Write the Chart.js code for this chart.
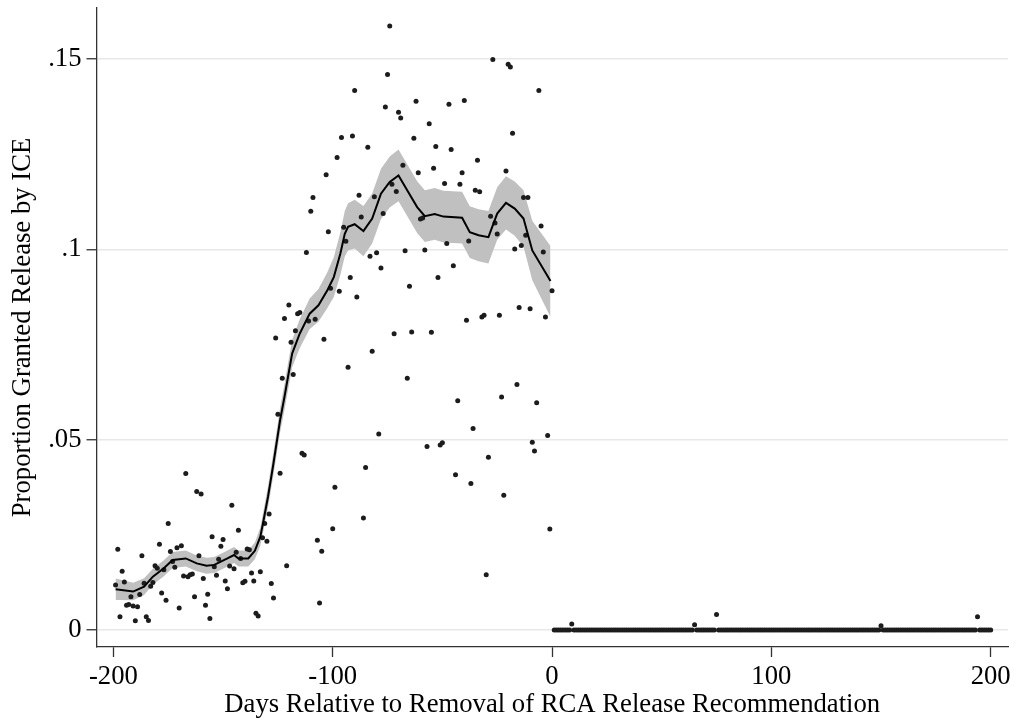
<!DOCTYPE html>
<html>
<head>
<meta charset="utf-8">
<script src="https://cdn.jsdelivr.net/npm/chart.js@4.4.1/dist/chart.umd.min.js"></script>
<style>
  html, body { margin: 0; padding: 0; background: #fff; }
</style>
</head>
<body>
<canvas id="chart" width="1016" height="723"></canvas>
<script>
// Daily share granted release, days -199 .. 0 (one point per day)
const preRate = [
  .0118, .0212, .0035, .0154, .0126, .0065, .0067, .0087, .0063, .0024,
  .0061, .0093, .0195, .0123, .0035, .0025, .0115, .0125, .0169, .0162,
  .0225, .0097, .0158, .0078, .0280, .0206, .0180, .0165, .0216, .0058,
  .0221, .0142, .0411, .0140, .0145, .0147, .0087, .0364, .0195, .0357,
  .0135, .0065, .0094, .0030, .0245, .0166, .0144, .0186, .0220, .0238,
  .0129, .0108, .0168, .0328, .0161, .0204, .0262, .0188, .0124, .0128,
  .0213, .0211, .0150, .0129, .0044, .0037, .0153, .0242, .0280, .0233,
  .0305, .0122, .0084, .0767, .0567, .0412, .0661, .0818, .0169, .0854,
  .0756, .0671, .0786, .0831, .0834, .0464, .0460, .0992, .0812, .1100,
  .1136, .0816, .0236, .0071, .0207, .0764, .1196, .1046, .0898, .0266,
  .0375, .1241, .0890, .1294, .1058, .1021, .0690, .0926, .1298, .1417,
  .0875, .1142, .1085, .0294, .0427, .1268, .0982, .0732, .1138, .0991,
  .0515, .0951, .1094, .1374, .1459, .1587, .1171, .0778, .1152, .1360,
  .1345, .1221, .0996, .0661, .0903, .0783, .1292, .1389, .1201, .1080,
  .1082, .0998, .0482, .1330, .0782, .1213, .1270, .0926, .0486, .0492,
  .1173, .1015, .1381, .1262, .0957, .0408, .0602, .1171, .1201, .1391,
  .0814, .1022, .0385, .0529, .1155, .1234, .1151, .0822, .0827, .0145,
  .0454, .1087, .1499, .1069, .1040, .0827, .0612, .0354, .1206, .1486,
  .1479, .1305, .1001, .0645, .0847, .1010, .1136, .1037, .1136, .0844,
  .0493, .0470, .0597, .1417, .1061, .0993, .0822, .0511, .0265, .0891
];

// Days 1 .. 200 after removal
const postRate = [
  0, 0, 0, 0, 0, 0, 0, 0, .0016, 0, 0, 0, 0, 0, 0, 0, 0, 0, 0, 0,
  0, 0, 0, 0, 0, 0, 0, 0, 0, 0, 0, 0, 0, 0, 0, 0, 0, 0, 0, 0,
  0, 0, 0, 0, 0, 0, 0, 0, 0, 0, 0, 0, 0, 0, 0, 0, 0, 0, 0, 0,
  0, 0, 0, 0, .0014, 0, 0, 0, 0, 0, 0, 0, 0, 0, .0041, 0, 0, 0, 0, 0,
  0, 0, 0, 0, 0, 0, 0, 0, 0, 0, 0, 0, 0, 0, 0, 0, 0, 0, 0, 0,
  0, 0, 0, 0, 0, 0, 0, 0, 0, 0, 0, 0, 0, 0, 0, 0, 0, 0, 0, 0,
  0, 0, 0, 0, 0, 0, 0, 0, 0, 0, 0, 0, 0, 0, 0, 0, 0, 0, 0, 0,
  0, 0, 0, 0, 0, 0, 0, 0, 0, .0011, 0, 0, 0, 0, 0, 0, 0, 0, 0, 0,
  0, 0, 0, 0, 0, 0, 0, 0, 0, 0, 0, 0, 0, 0, 0, 0, 0, 0, 0, 0,
  0, 0, 0, 0, 0, 0, 0, 0, 0, 0, 0, 0, 0, .0035, 0, 0, 0, 0, 0, 0
];

// Local fit with 95% band (pre-removal only)
const fitDays = [-199, -191, -186, -182, -177, -173, -167, -162, -157.5, -154,
  -148, -145, -143, -138.5, -135.5, -133, -131.5, -129.5, -127, -124,
  -122, -118.5, -115, -110.5, -106.5, -102.5, -99.5, -96.5, -94.5, -93,
  -90, -86, -82, -78, -74, -70, -65.5, -61.5, -58, -53.5,
  -49.5, -41, -37.5, -33.5, -29, -25, -21, -17, -13, -9, -0.7];
const fitRate = [.0107, .0101, .0114, .0140, .0162, .0184, .0188, .0175, .0169, .0171,
  .0188, .0197, .0188, .0188, .0208, .0245, .0289, .0350, .0438, .0551,
  .0612, .0726, .0779, .0831, .0853, .0892, .0927, .0989, .1041, .1059,
  .1066, .1048, .1081, .1146, .1177, .1194, .1150, .1111, .1087, .1093,
  .1086, .1083, .1045, .1037, .1032, .1094, .1122, .1107, .1081, .0997, .0917];
const fitLow = [.0079, .0078, .0092, .0119, .0141, .0163, .0167, .0154, .0148, .0150,
  .0167, .0176, .0167, .0167, .0186, .0221, .0263, .0322, .0408, .0519,
  .0578, .0690, .0741, .0791, .0810, .0845, .0875, .0933, .0981, .0997,
  .1002, .0982, .1015, .1080, .1110, .1126, .1082, .1043, .1019, .1025,
  .1018, .1015, .0977, .0969, .0963, .1025, .1052, .1036, .1007, .0919, .0822];
const fitHigh = [.0135, .0124, .0136, .0161, .0183, .0205, .0209, .0196, .0190, .0192,
  .0209, .0218, .0209, .0209, .0230, .0269, .0315, .0378, .0468, .0583,
  .0646, .0762, .0817, .0871, .0896, .0939, .0979, .1045, .1101, .1121,
  .1130, .1114, .1147, .1212, .1244, .1262, .1218, .1179, .1155, .1161,
  .1154, .1151, .1113, .1105, .1101, .1163, .1192, .1178, .1155, .1075, .1009];

const xTicks = [-200, -100, 0, 100, 200];
const xTickLabels = ['-200', '-100', '0', '100', '200'];
const yTicks = [0, .05, .1, .15];
const yTickLabels = ['0', '.05', '.1', '.15'];

const preDays = preRate.map((v, i) => i - 199);
const postDays = postRate.map((v, i) => i + 1);

const serif = { family: "'Liberation Serif', 'Times New Roman', serif", size: 26.7 };

const scatterPts = preDays.map((d, i) => ({ x: d, y: preRate[i] }))
  .concat(postDays.map((d, i) => ({ x: d, y: postRate[i] })));

const ctx = document.getElementById('chart').getContext('2d');
const chart = new Chart(ctx, {
    type: 'scatter',
    data: {
        datasets: [{
            // band lower edge
            type: 'line',
            data: fitDays.map((d, i) => ({ x: d, y: fitLow[i] })),
            borderWidth: 0,
            borderColor: 'rgba(0,0,0,0)',
            pointRadius: 0,
            fill: false,
            order: 4
        }, {
            // band upper edge, filled down to lower edge
            type: 'line',
            data: fitDays.map((d, i) => ({ x: d, y: fitHigh[i] })),
            borderWidth: 0,
            borderColor: 'rgba(0,0,0,0)',
            backgroundColor: '#c0c0c0',
            pointRadius: 0,
            fill: 0,
            order: 3
        }, {
            // daily points
            data: scatterPts,
            backgroundColor: '#1c1c1c',
            borderWidth: 0,
            pointRadius: 2.5,
            order: 2
        }, {
            // fitted line
            type: 'line',
            data: fitDays.map((d, i) => ({ x: d, y: fitRate[i] })),
            borderColor: '#000',
            borderWidth: 2,
            pointRadius: 0,
            tension: 0,
            fill: false,
            order: 1
        }]
    },
    options: {
        responsive: false,
        animation: false,
        layout: { padding: { top: 8, right: 8, left: 0, bottom: 0 } },
        plugins: {
            legend: { display: false },
            tooltip: { enabled: false }
        },
        scales: {
            x: {
                type: 'linear',
                min: -207.7,
                max: 207.9,
                afterBuildTicks: axis => { axis.ticks = xTicks.map(v => ({ value: v })); },
                afterFit: axis => {
                    axis.height = 76;
                    axis.paddingLeft = 0;
                    axis.paddingRight = 0;
                },
                grid: { drawOnChartArea: false, drawTicks: true, tickLength: 10, tickColor: '#333', tickWidth: 1.3 },
                border: { display: true, color: '#333', width: 1.3 },
                ticks: {
                    color: '#000',
                    font: serif,
                    padding: 4,
                    maxRotation: 0,
                    autoSkip: false,
                    callback: (v, i) => xTickLabels[i]
                },
                title: {
                    display: true,
                    text: 'Days Relative to Removal of RCA Release Recommendation',
                    color: '#000',
                    font: serif,
                    padding: { top: 0, bottom: 2 }
                }
            },
            y: {
                type: 'linear',
                min: -0.00447,
                max: 0.1634,
                afterBuildTicks: axis => { axis.ticks = yTicks.map(v => ({ value: v })); },
                afterFit: axis => {
                    axis.width = 96.5;
                    axis.paddingTop = 0;
                    axis.paddingBottom = 0;
                },
                grid: { color: '#e8e8e8', lineWidth: 1.5, drawTicks: true, tickLength: 10, tickColor: '#333', tickWidth: 1.3 },
                border: { display: true, color: '#333', width: 1.3 },
                ticks: {
                    color: '#000',
                    font: serif,
                    padding: 5,
                    autoSkip: false,
                    callback: (v, i) => yTickLabels[i]
                },
                title: {
                    display: true,
                    text: 'Proportion Granted Release by ICE',
                    color: '#000',
                    font: serif,
                    padding: { top: 7, bottom: 0 }
                }
            }
        }
    }
});
</script>
</body>
</html>
